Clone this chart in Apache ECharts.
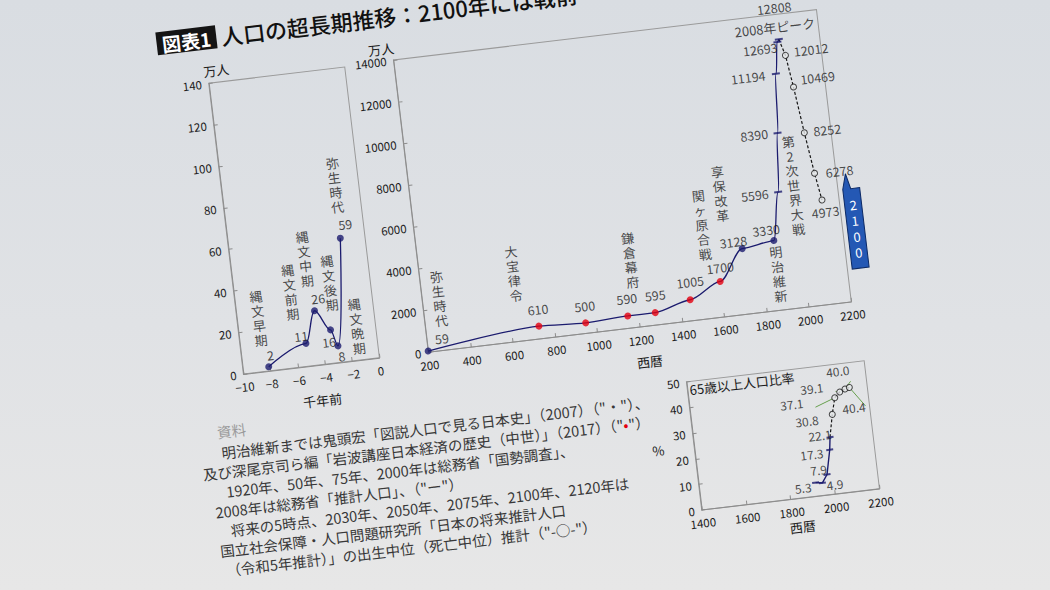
<!DOCTYPE html>
<html><head><meta charset="utf-8">
<script src="https://cdn.jsdelivr.net/npm/echarts@6/dist/echarts.min.js"></script>
<style>
html,body{margin:0;padding:0;width:1050px;height:590px;overflow:hidden;background:linear-gradient(180deg,#d9dde2 0%,#e0e2e5 55%,#e7e7e7 100%);}
#chart{position:absolute;left:0;top:-40px;width:1050px;height:670px;transform:rotate(-6.8deg);transform-origin:525px 335px;}
</style></head><body><div id="chart"></div>
<script>
// ---------------- data ----------------
const jomonKYA = [-8.1, -5.2, -4.3, -3.3, -2.9, -1.8];           // 千年前
const jomonPop = [2, 11, 26, 16, 8, 59];                           // 万人
const jomonNames = ['縄文早期', '縄文前期', '縄文中期', '縄文後期', '縄文晩期', '弥生時代'];

const histYears = [200, 730, 950, 1150, 1280, 1450, 1600, 1721, 1873, 1920, 1950, 1975, 2000, 2008];
const histPop = [59, 610, 500, 590, 595, 1005, 1700, 3128, 3330, 5596, 8390, 11194, 12693, 12808];
const histSource = ['kito', 'iwanami', 'iwanami', 'iwanami', 'iwanami', 'iwanami', 'iwanami', 'kito', 'kito', 'census', 'census', 'census', 'census', 'census'];
const histEvents = ['弥生時代', '大宝律令', '', '鎌倉幕府', '', '', '関ヶ原合戦', '享保改革', '明治維新', '第2次世界大戦', '', '', '', '2008年ピーク'];

const projYears = [2030, 2050, 2075, 2100, 2120];
const projPop = [12012, 10469, 8252, 6278, 4973];

const agedYears = [1920, 1950, 1975, 2000, 2008];
const agedRate = [5.3, 4.9, 7.9, 17.3, 22.1];
const projAgedRate = [30.8, 37.1, 39.1, 40.0, 40.4];

const sourceLines = [
  '明治維新までは鬼頭宏「図説人口で見る日本史」（2007）（"・"）、',
  '及び深尾京司ら編「岩波講座日本経済の歴史（中世）」（2017）（"{r|•}"）',
  '1920年、50年、75年、2000年は総務省「国勢調査」、',
  '2008年は総務省「推計人口」、（"ー"）',
  '将来の5時点、2030年、2050年、2075年、2100年、2120年は',
  '国立社会保障・人口問題研究所「日本の将来推計人口',
  '（令和5年推計）」の出生中位（死亡中位）推計（"-○-"）'
];

// ---------------- label layout (pixel offsets) ----------------
const jomonValOff = [[3,-11.5],[-4,-8],[5,-12],[-3,11.5],[2.5,10.5],[6.5,-13.5]];
const jomonNameOff = [[-4.5,-49.5],[-9.5,-53],[-3.5,-53],[4.5,-47],[21,-17.5],[1,-53.5]];
const histValOff = [[15,-11],[1,-17],[1,-17],[1,-17.5],[2,-17.5],[2,-18],[1.5,-14],[-8,-8],[-6.5,-11.5],[-23.5,0],[-23.5,-1],[-28,0],[-18,5],[-1,-32]];
const histEventOff = [[17,-51],[-19,-55.5],null,[9,-55.5],null,null,[-11.5,-58.5],[-15.5,-57.5],[0.5,33.5],[16,-5],null,null,null,[-2.5,-12.5]];
const projValOff = [[26,-3],[25,-7],[23,-0.5],[25,0.5],[2,12]];
const agedValOff = [[-13,3.3],[12.3,2.6],[-8,-6],[-18.4,2],[-9.8,-3.5]];
const projAgedOff = [[-26,3.3],[-43.6,1.1],[-27.4,-7],[-5.2,-19],[2.2,20.3]];
const projAgedLeader = [false, true, true, true, true];
const sourceLineX = [205, 184, 205, 192, 205, 192, 196];

// ---------------- styles ----------------
const fam = '"Noto Sans CJK JP", "Noto Sans", sans-serif';
const navy = '#1b1b6e';
const red = '#e3000f';
const txt = '#1c1c1c';
const axisGray = '#8c8c8c';
const markerStyle = {
  kito: {symbol: 'circle', size: 7, color: navy},
  iwanami: {symbol: 'circle', size: 7, color: red},
  census: {symbol: 'rect', size: [8, 2], color: navy}
};
const vert = s => s.split('').join('\n');
const minus = v => String(v).replace('-', '−');

function axis(extra) {
  return Object.assign({
    type: 'value',
    axisLine: {show: true, onZero: false, lineStyle: {color: axisGray, width: 1}},
    axisTick: {show: true, inside: true, length: 4, lineStyle: {color: axisGray}},
    axisLabel: {color: txt, fontSize: 11.5, fontFamily: fam, margin: 7, formatter: minus},
    splitLine: {show: false}
  }, extra);
}
function nameStyle(pad) {
  return {color: txt, fontSize: 13, fontFamily: fam, padding: pad || 0};
}
const valueLabel = (fmt) => ({show: true, position: 'inside', color: txt, fontSize: 12.5, fontFamily: fam, formatter: fmt});
const eventLabel = {show: true, position: 'inside', color: txt, fontSize: 13, lineHeight: 14.7, fontFamily: fam};

const chart = echarts.init(document.getElementById('chart'), null, {renderer: 'svg'});

const gridBase = {show: true, borderColor: '#9a9a9a', borderWidth: 1, backgroundColor: 'transparent', containLabel: false, outerBoundsMode: 'none'};

const histEventData = [];
histEvents.forEach((e, i) => {
  if (e) histEventData.push({value: [histYears[i], histPop[i]], name: e, label: {offset: histEventOff[i]}});
});

function gtext(text, x, y, size, fill, opts) {
  return {type: 'text', style: Object.assign({
    text: text, x: x, y: y, fill: fill,
    font: (opts && opts.weight ? opts.weight + ' ' : '') + size + 'px ' + fam,
    align: (opts && opts.align) || 'left', textAlign: (opts && opts.align) || 'left',
    verticalAlign: 'middle', textVerticalAlign: 'middle'
  }, (opts && opts.extra) || {})};
}

const option = {
  animation: false,
  grid: [
    Object.assign({left: 236, top: 87.3, width: 137, height: 292.8}, gridBase),
    Object.assign({left: 422.2, top: 86.1, width: 426, height: 294.3}, gridBase),
    Object.assign({left: 675, top: 440.4, width: 179, height: 129}, gridBase)
  ],
  xAxis: [
    axis({gridIndex: 0, min: -10, max: 0, interval: 2, name: '千年前', nameLocation: 'middle', nameGap: 29, nameTextStyle: nameStyle([0,0,0,14])}),
    axis({gridIndex: 1, min: 200, max: 2200, interval: 200, name: '西暦', nameLocation: 'middle', nameGap: 29, nameTextStyle: nameStyle([0,0,0,12])}),
    axis({gridIndex: 2, min: 1400, max: 2200, interval: 200, name: '西暦', nameLocation: 'middle', nameGap: 22, nameTextStyle: nameStyle([0,0,0,18])})
  ],
  yAxis: [
    axis({gridIndex: 0, min: 0, max: 140, interval: 20, name: '万人', nameLocation: 'end', nameGap: 3, nameTextStyle: nameStyle([0,0,0,18])}),
    axis({gridIndex: 1, min: 0, max: 14000, interval: 2000, name: '万人', nameLocation: 'end', nameGap: 3, nameTextStyle: nameStyle([0,22,0,0])}),
    axis({gridIndex: 2, min: 0, max: 50, interval: 10, name: '%', nameLocation: 'middle', nameRotate: 0, nameGap: 30, nameTextStyle: nameStyle()})
  ],
  series: [
    // ----- left: 縄文〜弥生 -----
    {type: 'line', xAxisIndex: 0, yAxisIndex: 0, smooth: 0.35, smoothMonotone: 'x', symbol: 'none',
     lineStyle: {color: navy, width: 1.3}, z: 2,
     data: jomonKYA.map((x, i) => [x, jomonPop[i]])},
    {type: 'scatter', xAxisIndex: 0, yAxisIndex: 0, symbol: 'circle', symbolSize: 7, itemStyle: {color: navy}, z: 3,
     label: valueLabel(p => String(p.value[1])),
     data: jomonKYA.map((x, i) => ({value: [x, jomonPop[i]], label: {offset: jomonValOff[i]}}))},
    {type: 'scatter', xAxisIndex: 0, yAxisIndex: 0, symbolSize: 0.1, itemStyle: {color: 'rgba(0,0,0,0)'}, silent: true, z: 4,
     label: Object.assign({formatter: p => vert(p.name)}, eventLabel),
     data: jomonKYA.map((x, i) => ({value: [x, jomonPop[i]], name: jomonNames[i], label: {offset: jomonNameOff[i]}}))},

    // ----- main: 西暦 -----
    {type: 'line', xAxisIndex: 1, yAxisIndex: 1, smooth: 0.3, smoothMonotone: 'x', symbol: 'none',
     lineStyle: {color: navy, width: 1.3}, z: 2,
     data: histYears.map((x, i) => [x, histPop[i]])},
    {type: 'line', xAxisIndex: 1, yAxisIndex: 1, symbol: 'none',
     lineStyle: {color: '#151515', width: 1.2, type: [3, 2]}, z: 2,
     data: [[histYears[histYears.length - 1], histPop[histPop.length - 1]]].concat(projYears.map((x, i) => [x, projPop[i]]))},
    {type: 'scatter', xAxisIndex: 1, yAxisIndex: 1, z: 3,
     label: valueLabel(p => String(p.value[1])),
     data: histYears.map((x, i) => {
       const m = markerStyle[histSource[i]];
       return {value: [x, histPop[i]], symbol: m.symbol, symbolSize: m.size, itemStyle: {color: m.color}, label: {offset: histValOff[i]}};
     })},
    {type: 'scatter', xAxisIndex: 1, yAxisIndex: 1, z: 3, symbol: 'circle', symbolSize: 6,
     itemStyle: {color: '#e6e8ea', borderColor: '#1a1a1a', borderWidth: 1},
     label: valueLabel(p => String(p.value[1])),
     data: projYears.map((x, i) => ({value: [x, projPop[i]], label: {offset: projValOff[i]}}))},
    {type: 'scatter', xAxisIndex: 1, yAxisIndex: 1, symbolSize: 0.1, itemStyle: {color: 'rgba(0,0,0,0)'}, silent: true, z: 4,
     label: Object.assign({}, eventLabel, {formatter: p => (p.name.indexOf('ピーク') >= 0 ? p.name : vert(p.name))}),
     data: histEventData},

    // ----- small: 65歳以上人口比率 -----
    {type: 'line', xAxisIndex: 2, yAxisIndex: 2, symbol: 'none', lineStyle: {color: navy, width: 1.4}, z: 2,
     data: agedYears.map((x, i) => [x, agedRate[i]])},
    {type: 'line', xAxisIndex: 2, yAxisIndex: 2, symbol: 'none', lineStyle: {color: '#151515', width: 1.2, type: [3, 2]}, z: 2,
     data: [[agedYears[agedYears.length - 1], agedRate[agedRate.length - 1]]].concat(projYears.map((x, i) => [x, projAgedRate[i]]))},
    {type: 'scatter', xAxisIndex: 2, yAxisIndex: 2, z: 3, symbol: 'rect', symbolSize: [7, 2], itemStyle: {color: navy},
     label: Object.assign(valueLabel(p => p.value[1].toFixed(1)), {fontSize: 12}),
     data: agedYears.map((x, i) => ({value: [x, agedRate[i]], label: {offset: agedValOff[i]}}))},
    {type: 'scatter', xAxisIndex: 2, yAxisIndex: 2, z: 3, symbol: 'circle', symbolSize: 6,
     itemStyle: {color: '#e6e8ea', borderColor: '#1a1a1a', borderWidth: 1},
     label: Object.assign(valueLabel(p => p.value[1].toFixed(1)), {fontSize: 12}),
     labelLine: {show: false, lineStyle: {color: '#5f9c45', width: 0.9}},
     data: projYears.map((x, i) => ({value: [x, projAgedRate[i]], label: {offset: projAgedOff[i]},
       labelLine: {show: projAgedLeader[i], lineStyle: {color: '#5f9c45', width: 0.9}}}))}
  ],
  graphic: [
    {type: 'rect', shape: {x: 189, y: 30.5, width: 60, height: 23}, style: {fill: '#141414'}},
    gtext('図表1', 219, 42.5, 19, '#ffffff', {align: 'center', weight: 'bold'}),
    gtext('人口の超長期推移：2100年には戦前', 254, 41.5, 22, '#111111', {weight: 500}),
    gtext('65歳以上人口比率', 730, 448.5, 13, txt, {align: 'center'}),
    {type: 'polygon', shape: {points: [[853, 268], [857.5, 252.5], [861, 268], [870, 268], [870, 348], [853, 348]]},
     style: {fill: '#2458b4', stroke: '#0c2a66', lineWidth: 1}},
    gtext('2\n1\n0\n0', 861.5, 308, 13, '#ffffff', {align: 'center', extra: {lineHeight: 16}}),
    gtext('資料', 203, 434.5, 14.5, '#9a9a9a')
  ].concat(sourceLines.map((t, i) => gtext(t, sourceLineX[i], 455.5 + i * 19.5, 14.5, '#383838',
      {extra: {rich: {r: {fill: red, font: '14.5px ' + fam}}}})))
};
chart.setOption(option);
</script>
</body></html>
